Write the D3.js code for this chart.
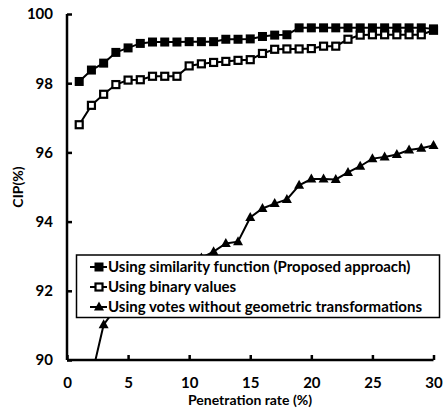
<!DOCTYPE html>
<html>
<head>
<meta charset="utf-8">
<script src="https://cdn.jsdelivr.net/npm/d3@7"></script>
<style>
  html, body { margin: 0; padding: 0; background: #fff; }
  svg { display: block; }
  text { font-family: Lato, "Open Sans", sans-serif; font-weight: 700; fill: #000; }
</style>
</head>
<body>
<svg id="chart" width="444" height="416"></svg>
<script>
// Penetration rate (%) on the x axis
const rates = d3.range(1, 31);

// CIP (%) for each method
const similarityValues = [98.05, 98.38, 98.58, 98.89, 99.02, 99.15, 99.19, 99.19, 99.19, 99.2,
  99.2, 99.2, 99.27, 99.27, 99.28, 99.35, 99.39, 99.4, 99.6, 99.6,
  99.6, 99.6, 99.6, 99.6, 99.6, 99.6, 99.6, 99.6, 99.6, 99.57];
const binaryValues = [96.8, 97.36, 97.68, 97.96, 98.09, 98.1, 98.2, 98.2, 98.2, 98.5,
  98.56, 98.6, 98.63, 98.66, 98.68, 98.86, 98.98, 98.99, 98.99, 99.0,
  99.07, 99.07, 99.27, 99.39, 99.4, 99.4, 99.4, 99.4, 99.4, 99.53];
const votesValues = [88.0, 89.5, 91.02, 91.5, 91.85, 92.1, 92.3, 92.45, 92.6, 92.8,
  92.95, 93.13, 93.37, 93.42, 94.12, 94.38, 94.52, 94.64, 95.05, 95.23,
  95.23, 95.22, 95.42, 95.6, 95.82, 95.87, 95.94, 96.07, 96.12, 96.2];

const seriesNames = [
  "Using similarity function (Proposed approach)",
  "Using binary values",
  "Using votes without geometric transformations"
];
const seriesMarkers = ["filledSquare", "openSquare", "triangle"];

const xTicks = [0, 5, 10, 15, 20, 25, 30];
const yTicks = [90, 92, 94, 96, 98, 100];

const xTitle = "Penetration rate (%)";
const yTitle = "CIP(%)";

const svg = d3.select("#chart");

const x = d3.scaleLinear().domain([0, 30]).range([67, 433.5]);
const y = d3.scaleLinear().domain([90, 100]).range([360, 14]);

const allSeries = [similarityValues, binaryValues, votesValues].map((vals, i) => ({
  name: seriesNames[i],
  marker: seriesMarkers[i],
  points: rates.map((r, j) => ({ x: r, y: vals[j] }))
}));

// clip marks to the plotting area
svg.append("defs").append("clipPath").attr("id", "plotClip")
  .append("rect")
  .attr("x", x(0)).attr("y", y(100) - 8)
  .attr("width", x(30) - x(0) + 10).attr("height", y(90) - y(100) + 8);

// axes
const xAxis = d3.axisBottom(x).tickValues(xTicks).tickSize(-5).tickPadding(17).tickFormat(d3.format("d"));
const yAxis = d3.axisLeft(y).tickValues(yTicks).tickSize(-5).tickPadding(14).tickFormat(d3.format("d"));

const gx = svg.append("g").attr("transform", `translate(0,${y(90)})`).call(xAxis);
const gy = svg.append("g").attr("transform", `translate(${x(0)},0)`).call(yAxis);

[gx, gy].forEach(g => {
  g.select(".domain").attr("stroke", "#000").attr("stroke-width", 2.5);
  g.selectAll(".tick line").attr("stroke", "#000").attr("stroke-width", 2.5);
  g.selectAll(".tick text").attr("font-size", 15).attr("font-family", "Lato, sans-serif").attr("font-weight", 700).attr("fill", "#000");
});
gy.select(".domain").attr("d", `M-0,${y(100)}V${y(90)}`);
gx.select(".domain").attr("d", `M${x(0)},0H${x(30)}`);

// axis titles
svg.append("text")
  .attr("x", 250).attr("y", 405)
  .attr("text-anchor", "middle").attr("font-size", 14)
  .text(xTitle);

svg.append("text")
  .attr("transform", `translate(23,${(y(90) + y(100)) / 2}) rotate(-90)`)
  .attr("text-anchor", "middle").attr("font-size", 14)
  .text(yTitle);

// marker shapes
function drawMarker(g, type, cx, cy) {
  if (type === "filledSquare") {
    g.append("rect").attr("x", cx - 4.5).attr("y", cy - 4.5).attr("width", 9).attr("height", 9)
      .attr("fill", "#000");
  } else if (type === "openSquare") {
    g.append("rect").attr("x", cx - 3.5).attr("y", cy - 3.5).attr("width", 7).attr("height", 7)
      .attr("fill", "#fff").attr("stroke", "#000").attr("stroke-width", 2.2);
  } else {
    g.append("path")
      .attr("d", `M${cx},${cy - 5.5}L${cx + 5},${cy + 3.5}L${cx - 5},${cy + 3.5}Z`)
      .attr("fill", "#000");
  }
}

const line = d3.line().x(d => x(d.x)).y(d => y(d.y));
const plot = svg.append("g").attr("clip-path", "url(#plotClip)");

// draw the lowest series first so the upper ones sit on top
allSeries.slice().reverse().forEach(s => {
  plot.append("path").datum(s.points)
    .attr("d", line)
    .attr("fill", "none").attr("stroke", "#000").attr("stroke-width", 2);
  const mg = plot.append("g");
  s.points.forEach(p => drawMarker(mg, s.marker, x(p.x), y(p.y)));
});

// legend box
const legend = svg.append("g");
legend.append("rect")
  .attr("x", 76.5).attr("y", 255).attr("width", 363).attr("height", 62.5)
  .attr("fill", "#fff").attr("stroke", "#000").attr("stroke-width", 1.5);

allSeries.forEach((s, i) => {
  const cy = 267 + i * 20;
  legend.append("line").attr("x1", 90).attr("x2", 107).attr("y1", cy).attr("y2", cy)
    .attr("stroke", "#000").attr("stroke-width", 2);
  drawMarker(legend, s.marker, 99, cy);
  legend.append("text")
    .attr("x", 108).attr("y", cy + 5)
    .attr("font-size", 15)
    .text(s.name);
});
</script>
</body>
</html>
